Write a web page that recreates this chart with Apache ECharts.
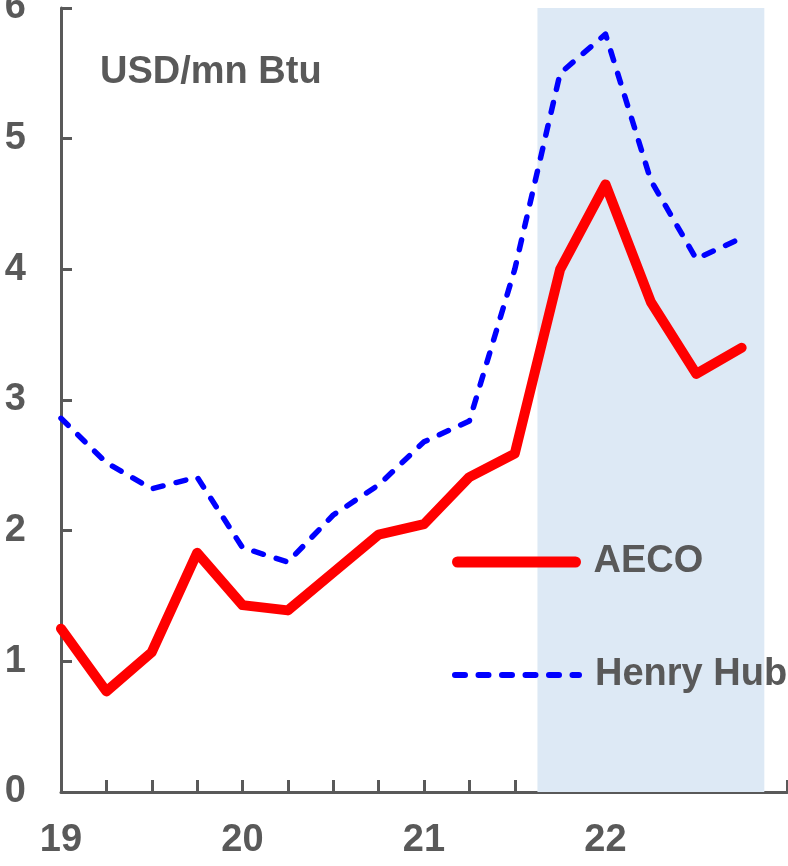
<!DOCTYPE html>
<html>
<head>
<meta charset="utf-8">
<script src="https://cdn.jsdelivr.net/npm/echarts@6/dist/echarts.min.js"></script>
<style>
html,body{margin:0;padding:0;background:#fff;}
#chart{width:788px;height:866px;}
</style>
</head>
<body>
<div id="chart"></div>
<script>
var quarters = ['19Q1','19Q2','19Q3','19Q4','20Q1','20Q2','20Q3','20Q4','21Q1','21Q2','21Q3','21Q4','22Q1','22Q2','22Q3','22Q4'];
var yearLabels = ['19','20','21','22'];
var aeco = [1.25, 0.77, 1.07, 1.83, 1.43, 1.39, 1.68, 1.97, 2.05, 2.41, 2.59, 4.00, 4.65, 3.75, 3.20, 3.40];
var henryHub = [2.86, 2.52, 2.32, 2.41, 1.87, 1.76, 2.12, 2.35, 2.68, 2.84, 4.00, 5.50, 5.80, 4.68, 4.08, 4.24];
var shadeRange = [10.5, 15.5];
var unitLabel = 'USD/mn Btu';

var grey = '#595959';
var font = 'Liberation Sans, Arial, sans-serif';

function toPairs(arr){ return arr.map(function(v,i){ return [i, v]; }); }

var chart = echarts.init(document.getElementById('chart'), null, {renderer:'canvas'});
chart.setOption({
  animation: false,
  backgroundColor: '#ffffff',
  grid: {left: 61, right: 1, top: 8, bottom: 74, containLabel: false, outerBoundsMode: 'none'},
  title: {
    text: unitLabel, left: 95, top: 49,
    textStyle: {color: grey, fontSize: 38, fontWeight: 'bold', fontFamily: font}
  },
  legend: [
    {
      data: ['AECO'], left: 452, top: 542, orient: 'vertical', padding: 0,
      itemWidth: 118, itemHeight: 12,
      lineStyle: {width: 11, cap: 'round'},
      itemStyle: {opacity: 0},
      textStyle: {color: grey, fontSize: 38, fontWeight: 'bold', fontFamily: font, lineHeight: 40, padding: [0,0,0,13]}
    },
    {
      data: ['Henry Hub'], left: 452, top: 655, orient: 'vertical', padding: 0,
      itemWidth: 124, itemHeight: 12,
      lineStyle: {width: 6, cap: 'round', type: [10, 13.5]},
      itemStyle: {opacity: 0},
      textStyle: {color: grey, fontSize: 38, fontWeight: 'bold', fontFamily: font, lineHeight: 40, padding: [0,0,0,11]}
    }
  ],
  xAxis: {
    type: 'value', min: 0, max: 16, interval: 1,
    axisLine: {show: true, lineStyle: {color: grey, width: 3}},
    axisTick: {show: true, inside: true, length: 12, lineStyle: {color: grey, width: 3}},
    splitLine: {show: false},
    axisLabel: {
      margin: 30, color: grey, fontSize: 38, fontWeight: 'bold', fontFamily: font,
      showMaxLabel: true,
      formatter: function(v){ return (v % 4 === 0 && v/4 < yearLabels.length) ? yearLabels[v/4] : ''; }
    }
  },
  yAxis: {
    type: 'value', min: 0, max: 6, interval: 1,
    axisLine: {show: true, lineStyle: {color: grey, width: 3}},
    axisTick: {show: true, inside: true, length: 11, lineStyle: {color: grey, width: 3}},
    splitLine: {show: false},
    axisLabel: {margin: 35, color: grey, fontSize: 38, fontWeight: 'bold', fontFamily: font}
  },
  series: [
    {
      name: 'AECO', type: 'line', data: toPairs(aeco), symbol: 'none', z: 3,
      lineStyle: {color: '#ff0000', width: 10, join: 'round', cap: 'round'},
      itemStyle: {color: '#ff0000'},
      markArea: {
        silent: true,
        itemStyle: {color: '#dde9f5'},
        data: [[{xAxis: shadeRange[0], yAxis: 0}, {xAxis: shadeRange[1], yAxis: 6}]]
      }
    },
    {
      name: 'Henry Hub', type: 'line', data: toPairs(henryHub), symbol: 'none', z: 2,
      lineStyle: {color: '#0000ff', width: 5.5, type: [10, 13.5], join: 'round', cap: 'round'},
      itemStyle: {color: '#0000ff'}
    }
  ]
});
</script>
</body>
</html>
